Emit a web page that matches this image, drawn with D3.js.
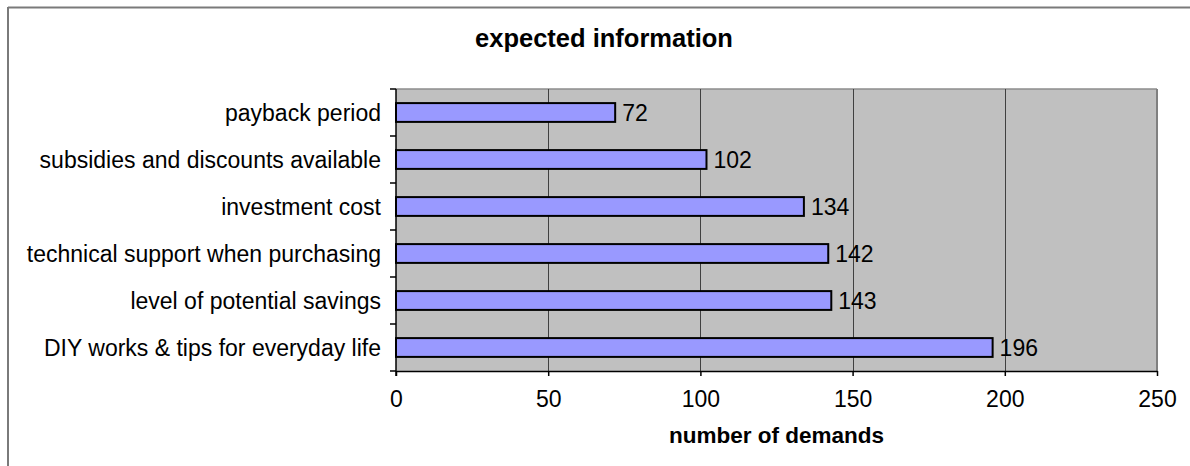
<!DOCTYPE html>
<html>
<head>
<meta charset="utf-8">
<script src="https://cdn.jsdelivr.net/npm/d3@7"></script>
<style>
html,body{margin:0;padding:0;background:#fff;}
svg{display:block;font-family:"Liberation Sans",Arial,sans-serif;}
</style>
</head>
<body>
<svg id="chart" width="1190" height="466"></svg>
<script>
const categories = ["payback period","subsidies and discounts available","investment cost","technical support when purchasing","level of potential savings","DIY works & tips for everyday life"];
const values = [72,102,134,142,143,196];
const xTicks = [0,50,100,150,200,250];
const chartTitle = "expected information";
const xTitle = "number of demands";

const svg = d3.select("#chart");
const W = 1190, H = 466;
const m = {left:396, right:1157, top:89, bottom:371};

// outer chart border (only top/left visible)
svg.append("line").attr("x1",8).attr("x2",W+5).attr("y1",7.5).attr("y2",7.5).attr("stroke","#7a7a7a").attr("stroke-width",2);
svg.append("line").attr("x1",8).attr("x2",8).attr("y1",7).attr("y2",H+5).attr("stroke","#7a7a7a").attr("stroke-width",2);

const x = d3.scaleLinear().domain([0,250]).range([m.left,m.right]);
const y = d3.scaleBand().domain(categories).range([m.top,m.bottom]).paddingInner(0.6).paddingOuter(0.3);
const yb = d3.scaleBand().domain(categories).range([m.top,m.bottom]);

// plot area
svg.append("rect").attr("x",m.left).attr("y",m.top).attr("width",m.right-m.left).attr("height",m.bottom-m.top).attr("fill","#c0c0c0");
svg.append("line").attr("x1",m.left).attr("x2",m.right).attr("y1",m.top).attr("y2",m.top).attr("stroke","#8c8c8c").attr("stroke-width",1.5);
svg.append("line").attr("x1",m.right).attr("x2",m.right).attr("y1",m.top).attr("y2",m.bottom).attr("stroke","#808080").attr("stroke-width",2);

// gridlines
svg.append("g").selectAll("line").data(xTicks.filter(d=>d>0&&d<250)).join("line")
  .attr("x1",d=>Math.round(x(d))+0.5).attr("x2",d=>Math.round(x(d))+0.5)
  .attr("y1",m.top).attr("y2",m.bottom).attr("stroke","#404040").attr("stroke-width",1);

// bars
svg.append("g").selectAll("rect").data(categories).join("rect")
  .attr("x",x(0)).attr("y",d=>y(d))
  .attr("width",(d,i)=>x(values[i])-x(0)).attr("height",y.bandwidth())
  .attr("fill","#9999ff").attr("stroke","#000").attr("stroke-width",2);

// value labels
svg.append("g").selectAll("text").data(categories).join("text")
  .attr("x",(d,i)=>x(values[i])+7).attr("y",d=>y(d)+y.bandwidth()/2)
  .attr("dy","0.35em").attr("font-size","23px").attr("fill","#000")
  .text((d,i)=>values[i]);

// y axis
const yAxisG = svg.append("g");
yAxisG.append("line").attr("x1",m.left).attr("x2",m.left).attr("y1",m.top).attr("y2",m.bottom+5).attr("stroke","#000").attr("stroke-width",1.5);
const bounds = categories.map(d=>yb(d)).concat([m.bottom]);
yAxisG.selectAll("line.t").data(bounds).join("line").attr("class","t")
  .attr("x1",m.left-6).attr("x2",m.left).attr("y1",d=>d).attr("y2",d=>d).attr("stroke","#000").attr("stroke-width",1.5);
yAxisG.selectAll("text").data(categories).join("text")
  .attr("x",m.left-15).attr("y",d=>yb(d)+yb.bandwidth()/2).attr("dy","0.35em")
  .attr("text-anchor","end").attr("font-size","23px").attr("fill","#000").text(d=>d);

// x axis
const xAxis = d3.axisBottom(x).tickValues(xTicks).tickSize(5).tickPadding(15).tickSizeOuter(0);
const xg = svg.append("g").attr("transform",`translate(0,${m.bottom})`).call(xAxis);
xg.select(".domain").attr("stroke","#000").attr("stroke-width",1.5);
xg.selectAll(".tick line").attr("stroke","#000").attr("stroke-width",1.5);
xg.selectAll(".tick text").attr("font-size","23px").attr("font-family","Liberation Sans, Arial, sans-serif").attr("fill","#000");

// titles
svg.append("text").attr("x",604).attr("y",47).attr("text-anchor","middle")
  .attr("font-size","25.5px").attr("font-weight","bold").text(chartTitle);
svg.append("text").attr("x",(m.left+m.right)/2).attr("y",443).attr("text-anchor","middle")
  .attr("font-size","22.5px").attr("font-weight","bold").text(xTitle);
</script>
</body>
</html>
